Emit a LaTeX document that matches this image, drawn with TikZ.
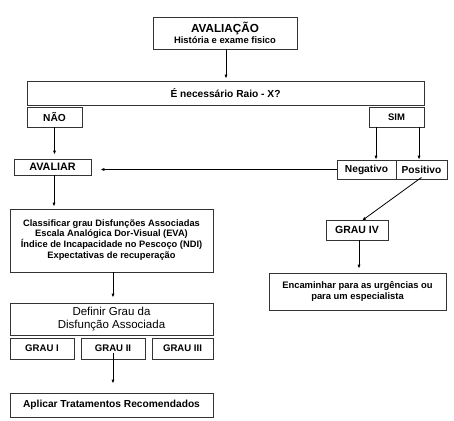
\documentclass[tikz,border=0pt]{standalone}
\usepackage{fontspec}
\setmainfont{Liberation Sans}
\usetikzlibrary{arrows.meta}
\newcommand{\fs}[2]{\fontsize{#1}{#2}\selectfont}
\begin{document}
\begin{tikzpicture}[x=1pt,y=-1pt,
  box/.style={draw=black!80, line width=0.8pt, fill=white, inner sep=0pt, align=center,
    font=\bfseries\fs{10.2}{11}},
  arr/.style={draw=black, line width=0.8pt, -{Latex[length=4pt,width=3.2pt]}},
  ln/.style={draw=black, line width=0.8pt}]
\useasboundingbox (0,0) rectangle (454,420);
\node[box, minimum width=144pt, minimum height=32pt] (aval) at (225,33)
  {{\fs{11.7}{12}AVALIAÇÃO}\\[0.5pt]{\fs{9.4}{10}História e exame fisico}};
\node[box, minimum width=397pt, minimum height=24pt] (raio) at (225.5,93) {É necessário Raio - X?};
\node[box, minimum width=55pt, minimum height=20pt] (nao) at (54.5,117) {NÃO};
\node[box, minimum width=55pt, minimum height=20pt, font=\bfseries\fs{9.5}{10}] (sim) at (396.5,117) {SIM};
\node[box, minimum width=77pt, minimum height=16pt, font=\bfseries\fs{10.8}{11}] (avaliar) at (52.5,167) {AVALIAR};
\node[box, minimum width=59pt, minimum height=19pt] (neg) at (366.5,169.5) {Negativo};
\node[box, minimum width=51pt, minimum height=19pt] (pos) at (421.5,169.5) {Positivo};
\node[box, minimum width=203pt, minimum height=63pt, font=\bfseries\fs{9.3}{9.7}] (class) at (111.5,240.5)
  {Classificar grau Disfunções Associadas\\Escala Analógica Dor-Visual (EVA)\\Índice de Incapacidade no Pescoço (NDI)\\[1.5pt]Expectativas de recuperação};
\node[box, minimum width=62pt, minimum height=20pt, font=\bfseries\fs{10.5}{11}] (grau4) at (357,230) {GRAU IV};
\node[box, minimum width=177pt, minimum height=37pt, font=\bfseries\fs{9.4}{10}] (enc) at (357.5,291.5)
  {Encaminhar para as urgências ou\\[1.5pt]para um especialista};
\node[box, minimum width=203pt, minimum height=32pt, font=\mdseries\fs{11.5}{12.5}] (def) at (111.5,319)
  {Definir Grau da\\Disfunção Associada};
\node[box, minimum width=64pt, minimum height=21pt, font=\bfseries\fs{9.6}{10}] (g1) at (42,348.5) {GRAU I};
\node[box, minimum width=64pt, minimum height=21pt, font=\bfseries\fs{9.6}{10}] (g2) at (113,348.5) {GRAU II};
\node[box, minimum width=61pt, minimum height=21pt, font=\bfseries\fs{9.6}{10}] (g3) at (182.5,348.5) {GRAU III};
\node[box, minimum width=203pt, minimum height=24pt] (apl) at (111.5,405) {Aplicar Tratamentos Recomendados};

\draw[arr, shorten >=2pt] ([xshift=1pt]aval.south) -- ([xshift=1pt]aval.south |- raio.north);
\draw[arr, shorten >=4pt] (nao.south) -- (nao.south |- avaliar.north);
\draw[arr] ([xshift=-20.5pt]sim.south) -- ([xshift=-20.5pt]sim.south |- neg.north);
\draw[arr] ([xshift=22.5pt]sim.south) -- ([xshift=22.5pt]sim.south |- pos.north);
\draw[arr, shorten >=9pt] (neg.west) -- (neg.west -| avaliar.east);
\draw[arr] ([yshift=2pt]pos.south) -- ([xshift=5pt,yshift=-1pt]grau4.north);
\draw[arr, shorten >=4pt] ([xshift=2pt]grau4.south) -- ([xshift=2pt]grau4.south |- enc.north);
\draw[arr, shorten >=2pt] ([xshift=1.5pt]avaliar.south) -- ([xshift=1.5pt]avaliar.south |- class.north);
\draw[arr, shorten >=5pt] ([xshift=1.5pt]class.south) -- ([xshift=1.5pt]class.south |- def.north);
\draw[arr, shorten >=3pt] ([yshift=6pt]g2.south) -- ([yshift=6pt]g2.south |- apl.north);
\end{tikzpicture}
\end{document}
